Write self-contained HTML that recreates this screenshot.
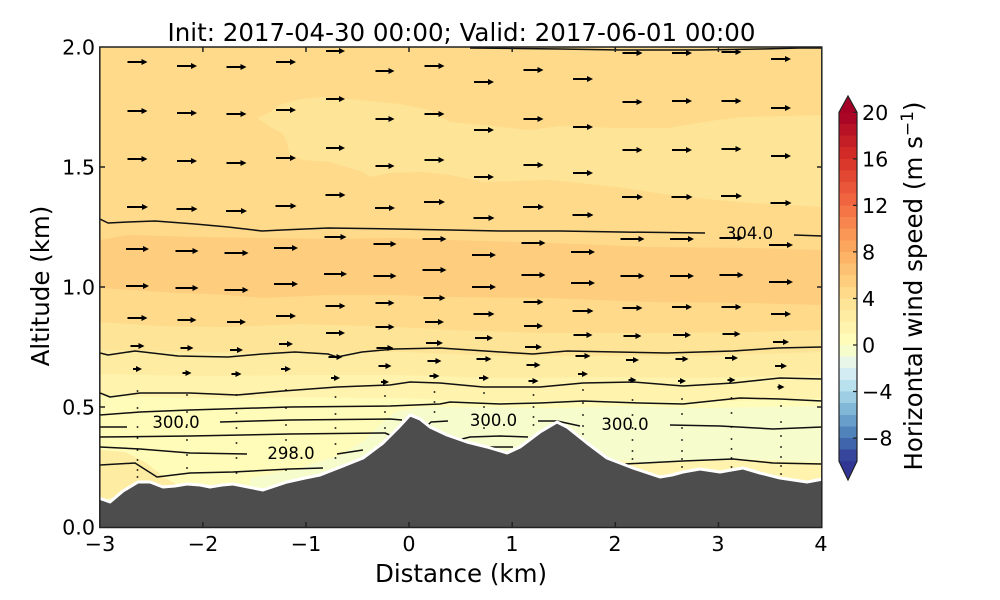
<!DOCTYPE html>
<html><head><meta charset="utf-8"><style>
html,body{margin:0;padding:0;background:#fff;}
svg{display:block;}
text{font-family:"DejaVu Sans","Liberation Sans",sans-serif;fill:#000;}
</style></head><body>
<svg width="1000" height="600" viewBox="0 0 1000 600" xmlns="http://www.w3.org/2000/svg">
<defs>
<clipPath id="cp"><rect x="100" y="47" width="722" height="480"/></clipPath>
<marker id="h" markerWidth="7" markerHeight="7" refX="0" refY="3" orient="auto" markerUnits="userSpaceOnUse"><path d="M0,0L6,3L0,6z" fill="#000"/></marker>
</defs>
<rect width="1000" height="600" fill="#fff"/>
<g clip-path="url(#cp)">
<rect x="100" y="47" width="722" height="480" fill="#feda8a"/>
<path fill="#fee496" d="M257,118 L270,112 L280,105 L300,99 L323,97 L360,100 L400,104 L430,110 L450,122 L483,125 L530,130 L560,126 L617,128 L667,128 L717,120 L743,117 L822,115 L822,207 L750,203 L683,197 L617,187 L550,180 L483,182 L450,175 L423,172 L390,173 L370,177 L363,172 L330,162 L303,160 L290,155 L286,140 L282,133 L270,127 Z"/>
<path fill="#fecd7e" d="M100,240 L128,235 L195,237 L262,238 L328,239 L395,238 L450,240 L550,243 L650,247 L750,248 L822,250 L822,305 L750,303 L650,302 L550,298 L450,297 L395,295 L328,295 L262,298 L228,295 L162,292 L100,288 Z"/>
<path fill="#fee496" d="M100,322 L160,326 L230,327 L300,324 L400,327 L450,330 L550,333 L650,333 L750,332 L822,330 L822,527 L100,527 Z"/>
<path fill="#feeca2" d="M100,350 L200,352 L300,353 L400,352 L500,356 L600,356 L700,356 L822,352 L822,527 L100,527 Z"/>
<path fill="#fff3ad" d="M100,374 L200,376 L300,375 L400,375 L500,378 L600,377 L700,378 L822,375 L822,527 L100,527 Z"/>
<path fill="#fffbb9" d="M100,396 L200,398 L300,397 L400,398 L500,402 L600,400 L700,402 L822,398 L822,527 L100,527 Z"/>
<path fill="#f7fccd" d="M250,478 L300,468 L340,455 L365,440 L380,425 L395,412 L420,407 L480,407 L560,408 L620,406 L700,408 L822,406 L822,462 L740,459 L690,460 L640,463 L605,458 L590,450 L560,470 L400,480 L300,500 L250,492 Z"/>
<path fill="#feeca2" d="M100,450 L125,452 L145,462 L165,478 L180,486 L100,500 Z"/>
<path fill="#fff3ad" d="M600,458 L640,464 L690,461 L740,460 L822,464 L822,490 L600,490 Z"/>

<!-- contour lines -->
<g fill="none" stroke="#111" stroke-width="1.5" stroke-linejoin="round">
<polyline points="470,48 560,49 620,50 700,50 760,49 800,48 822,48"/>
<polyline points="100,219 108,223 128,222 155,221 195,224 228,227 262,231 282,230 328,228 395,229 450,230 500,231 560,231 620,232 705,233"/>
<polyline points="794,235 822,236"/>
<polyline points="100,353 108,355 135,351 178,356 228,357 262,354 295,352 328,354 337,357 362,352 395,349 440,348 500,352 533,354 567,351 617,352 667,353 733,351 777,348 822,347"/>
<polyline points="100,393 110,397 140,393 190,393 237,395 283,391 337,387 390,385 410,382 440,383 483,387 540,387 583,383 633,382 683,386 733,383 780,378 822,379"/>
<polyline points="100,415 140,412 190,410 290,407 390,406 440,404 450,402 500,404 540,403 583,401 640,403 683,404 740,398 780,399 822,401"/>
<polyline points="100,427 127,427"/>
<polyline points="220,422 290,420 390,419 402,420"/>
<polyline points="428,425 431,422 448,421"/>
<polyline points="538,421 557,421 580,426"/>
<polyline points="670,425 720,426 773,429 822,427"/>
<polyline points="100,437 190,436 290,434 385,433 392,436"/>
<polyline points="462,439 470,437 500,436 528,437"/>
<polyline points="490,447 513,447"/>
<polyline points="100,447 140,449 190,453 247,454"/>
<polyline points="337,454 363,450"/>
<polyline points="100,465 135,463 157,477 190,473 233,472 290,469 323,468"/>
<polyline points="625,464 683,461 733,459 773,463 822,464"/>
</g>
<g font-size="16.5" text-anchor="middle" fill="#111">
<text x="176" y="428">300.0</text>
<text x="291" y="459">298.0</text>
<text x="493.5" y="426">300.0</text>
<text x="625" y="430">300.0</text>
<text x="749.5" y="239">304.0</text>
</g>

<!-- quiver -->
<g stroke="#000" stroke-width="2" fill="none" marker-end="url(#h)">
<g transform="translate(137.5 0)"><path d="M-10 62h14"/><path d="M-10 111h14"/><path d="M-10 159h14"/><path d="M-10.5 207h15"/><path d="M-11.5 249h17"/><path d="M-11.5 286h17"/><path d="M-10 318h14"/><path d="M-7 346h8"/><path d="M-4.5 369h3"/><path style="marker-end:none" stroke-width="1.6" d="M-0.8 391h1.6M-0.8 408h1.6M-0.8 427h1.6M-0.8 438h1.6M-0.8 450h1.6M-0.8 460h1.6M-0.8 470h1.6M-0.8 477h1.6"/></g>
<g transform="translate(187 0)"><path d="M-10 66h14"/><path d="M-10 113h14"/><path d="M-10 161h14"/><path d="M-10.5 209h15"/><path d="M-11.5 251h17"/><path d="M-11.5 288h17"/><path d="M-9.5 320h13"/><path d="M-6.5 348h7"/><path d="M-4.5 373h3"/><path style="marker-end:none" stroke-width="1.6" d="M-0.8 395h1.6M-0.8 412h1.6M-0.8 425h1.6M-0.8 440h1.6M-0.8 455h1.6M-0.8 468h1.6"/></g>
<g transform="translate(236.5 0)"><path d="M-10 67h14"/><path d="M-10 114h14"/><path d="M-10 163h14"/><path d="M-10.5 211h15"/><path d="M-12 253h18"/><path d="M-12 290h18"/><path d="M-9.5 322h13"/><path d="M-6.5 350h7"/><path d="M-5 374h4"/><path style="marker-end:none" stroke-width="1.6" d="M-0.8 395h1.6M-0.8 413h1.6M-0.8 428h1.6M-0.8 443h1.6M-0.8 458h1.6M-0.8 473h1.6"/></g>
<g transform="translate(286 0)"><path d="M-10 62h14"/><path d="M-10 110h14"/><path d="M-10 158h14"/><path d="M-10.5 206h15"/><path d="M-12 248h18"/><path d="M-12 284h18"/><path d="M-10 316h14"/><path d="M-7 344h8"/><path d="M-5 369h4"/><path style="marker-end:none" stroke-width="1.6" d="M-0.8 390h1.6M-0.8 408h1.6M-0.8 425h1.6M-0.8 440h1.6M-0.8 456h1.6M-0.8 470h1.6"/></g>
<g transform="translate(335.5 0)"><path d="M-9.5 51h13"/><path d="M-9.5 99h13"/><path d="M-9.5 148h13"/><path d="M-10 195h14"/><path d="M-11 237h16"/><path d="M-11.5 274h17"/><path d="M-10 306h14"/><path d="M-9.5 333h13"/><path d="M-7 357h8"/><path d="M-4.5 378h3"/><path style="marker-end:none" stroke-width="1.6" d="M-0.8 397h1.6M-0.8 414h1.6M-0.8 428h1.6M-0.8 444h1.6M-0.8 458h1.6"/></g>
<g transform="translate(385 0)"><path d="M-9.5 71h13"/><path d="M-9.5 119h13"/><path d="M-9.5 166h13"/><path d="M-10 208h14"/><path d="M-11.5 244h17"/><path d="M-11.5 276h17"/><path d="M-9.5 303h13"/><path d="M-9.5 327h13"/><path d="M-8.5 348h11"/><path d="M-6.5 366h7"/><path d="M-4 382h2"/><path style="marker-end:none" stroke-width="1.6" d="M-0.8 396h1.6M-0.8 412h1.6M-0.8 428h1.6"/></g>
<g transform="translate(434.5 0)"><path d="M-10 66h14"/><path d="M-10 114h14"/><path d="M-10 160h14"/><path d="M-10.5 202h15"/><path d="M-12 239h18"/><path d="M-12 270h18"/><path d="M-11 298h16"/><path d="M-9.5 322h13"/><path d="M-8.5 343h11"/><path d="M-7 361h8"/><path d="M-5 376h4"/><path style="marker-end:none" stroke-width="1.6" d="M-0.8 392h1.6M-0.8 402h1.6M-0.8 412h1.6"/></g>
<g transform="translate(484 0)"><path d="M-10 82h14"/><path d="M-10 130h14"/><path d="M-10 177h14"/><path d="M-10.5 218h15"/><path d="M-12 255h18"/><path d="M-12 287h18"/><path d="M-10.5 314h15"/><path d="M-9 338h12"/><path d="M-7.5 359h9"/><path d="M-5 378h4"/><path style="marker-end:none" stroke-width="1.6" d="M-0.8 393h1.6M-0.8 407h1.6M-0.8 428h1.6"/></g>
<g transform="translate(533.5 0)"><path d="M-10 70h14"/><path d="M-10 119h14"/><path d="M-10 165h14"/><path d="M-10.5 207h15"/><path d="M-12 243h18"/><path d="M-12 275h18"/><path d="M-10 302h14"/><path d="M-9.5 326h13"/><path d="M-8.5 347h11"/><path d="M-7 365h8"/><path d="M-5 381h4"/><path style="marker-end:none" stroke-width="1.6" d="M-0.8 395h1.6M-0.8 407h1.6M-0.8 417h1.6M-0.8 425h1.6"/></g>
<g transform="translate(583 0)"><path d="M-10 79h14"/><path d="M-10 127h14"/><path d="M-10 173h14"/><path d="M-10.5 215h15"/><path d="M-12 252h18"/><path d="M-12 283h18"/><path d="M-10.5 311h15"/><path d="M-9.5 335h13"/><path d="M-7.5 356h9"/><path d="M-5 374h4"/><path style="marker-end:none" stroke-width="1.6" d="M-0.8 390h1.6M-0.8 403h1.6M-0.8 415h1.6M-0.8 426h1.6M-0.8 434h1.6"/></g>
<g transform="translate(632.5 0)"><path d="M-10 53h14"/><path d="M-10 102h14"/><path d="M-10 150h14"/><path d="M-10.5 197h15"/><path d="M-12 239h18"/><path d="M-12 276h18"/><path d="M-10 308h14"/><path d="M-9 336h12"/><path d="M-6.5 360h7"/><path d="M-4 380h2"/><path style="marker-end:none" stroke-width="1.6" d="M-0.8 400h1.6M-0.8 415h1.6M-0.8 428h1.6M-0.8 440h1.6M-0.8 451h1.6M-0.8 459h1.6"/></g>
<g transform="translate(682 0)"><path d="M-10 53h14"/><path d="M-10 101h14"/><path d="M-10 150h14"/><path d="M-10.5 197h15"/><path d="M-12 239h18"/><path d="M-12 276h18"/><path d="M-10 307h14"/><path d="M-9 335h12"/><path d="M-6.5 359h7"/><path d="M-4 381h2"/><path style="marker-end:none" stroke-width="1.6" d="M-0.8 399h1.6M-0.8 414h1.6M-0.8 428h1.6M-0.8 440h1.6M-0.8 451h1.6M-0.8 459h1.6M-0.8 467h1.6"/></g>
<g transform="translate(731.5 0)"><path d="M-10 52h14"/><path d="M-10 101h14"/><path d="M-10 149h14"/><path d="M-10.5 196h15"/><path d="M-12 238h18"/><path d="M-12 275h18"/><path d="M-10 307h14"/><path d="M-9 334h12"/><path d="M-6.5 358h7"/><path d="M-4 380h2"/><path style="marker-end:none" stroke-width="1.6" d="M-0.8 398h1.6M-0.8 413h1.6M-0.8 427h1.6M-0.8 439h1.6M-0.8 449h1.6M-0.8 458h1.6M-0.8 467h1.6"/></g>
<g transform="translate(781 0)"><path d="M-10 59h14"/><path d="M-10 108h14"/><path d="M-10 156h14"/><path d="M-10.5 203h15"/><path d="M-12 245h18"/><path d="M-12 282h18"/><path d="M-10 314h14"/><path d="M-8 342h10"/><path d="M-6 366h6"/><path d="M-3.5 387h1"/><path style="marker-end:none" stroke-width="1.6" d="M-0.8 406h1.6M-0.8 422h1.6M-0.8 436h1.6M-0.8 447h1.6M-0.8 457h1.6M-0.8 466h1.6M-0.8 474h1.6"/></g>
</g>

<!-- terrain -->
<path fill="#4d4d4d" stroke="#fff" stroke-width="3" stroke-linejoin="round" d="M99,498 L110,502 L123,491 L138,482 L150,482 L163,487 L175,486 L187,484 L200,485 L210,487 L222,485 L233,484 L248,487 L263,490 L275,486 L287,482 L305,478 L320,475 L343,466 L363,458 L383,443 L398,428 L410,415 L420,419 L430,427 L447,435 L467,442 L487,447 L507,453 L520,447 L540,432 L557,422 L567,427 L587,443 L607,458 L633,468 L660,477 L672,475 L683,472 L700,469 L720,472 L743,468 L760,473 L780,478 L807,482 L823,479 L823,530 L99,530 Z"/>
</g>

<!-- frame and ticks -->
<g stroke="#222" stroke-width="1.5" fill="none">
<rect x="99.8" y="47" width="722" height="480.5"/>
<path d="M202.9 47v5M306 47v5M409 47v5M512.2 47v5M615.3 47v5M718.4 47v5M202.9 527v-5M306 527v-5M409 527v-5M512.2 527v-5M615.3 527v-5M718.4 527v-5M100 407h5M100 287h5M100 167h5M822 407h-5M822 287h-5M822 167h-5"/>
</g>

<!-- tick labels -->
<g font-size="20.7" text-anchor="end">
<text x="95" y="534.5">0.0</text>
<text x="95" y="414.5">0.5</text>
<text x="95" y="294.5">1.0</text>
<text x="95" y="174.5">1.5</text>
<text x="95" y="54.5">2.0</text>
</g>
<g font-size="20.7" text-anchor="middle">
<text x="100" y="551">−3</text>
<text x="203" y="551">−2</text>
<text x="306" y="551">−1</text>
<text x="409" y="551">0</text>
<text x="512" y="551">1</text>
<text x="615" y="551">2</text>
<text x="718" y="551">3</text>
<text x="821" y="551">4</text>
</g>
<text x="461" y="582" font-size="24.5" text-anchor="middle">Distance (km)</text>
<text transform="translate(49 286) rotate(-90)" font-size="24.5" text-anchor="middle">Altitude (km)</text>
<text x="461.5" y="41" font-size="24.5" text-anchor="middle">Init: 2017-04-30 00:00; Valid: 2017-06-01 00:00</text>

<!-- colorbar -->
<g shape-rendering="crispEdges">
<rect x="839" y="112.3" width="18" height="11.8" fill="#ab0626"/>
<rect x="839" y="123.9" width="18" height="11.8" fill="#b81226"/>
<rect x="839" y="135.6" width="18" height="11.8" fill="#c41e27"/>
<rect x="839" y="147.2" width="18" height="11.8" fill="#d12a27"/>
<rect x="839" y="158.8" width="18" height="11.8" fill="#db382c"/>
<rect x="839" y="170.5" width="18" height="11.8" fill="#e24732"/>
<rect x="839" y="182.1" width="18" height="11.8" fill="#e95639"/>
<rect x="839" y="193.7" width="18" height="11.8" fill="#f0653f"/>
<rect x="839" y="205.4" width="18" height="11.8" fill="#f57547"/>
<rect x="839" y="217.0" width="18" height="11.8" fill="#f7854e"/>
<rect x="839" y="228.6" width="18" height="11.8" fill="#fa9656"/>
<rect x="839" y="240.3" width="18" height="11.8" fill="#fca65d"/>
<rect x="839" y="251.9" width="18" height="11.8" fill="#fdb467"/>
<rect x="839" y="263.5" width="18" height="11.8" fill="#fdc173"/>
<rect x="839" y="275.2" width="18" height="11.8" fill="#fecd7e"/>
<rect x="839" y="286.8" width="18" height="11.8" fill="#feda8a"/>
<rect x="839" y="298.4" width="18" height="11.8" fill="#fee496"/>
<rect x="839" y="310.1" width="18" height="11.8" fill="#feeca2"/>
<rect x="839" y="321.7" width="18" height="11.8" fill="#fff3ad"/>
<rect x="839" y="333.3" width="18" height="11.8" fill="#fffbb9"/>
<rect x="839" y="345.0" width="18" height="11.8" fill="#f7fccd"/>
<rect x="839" y="356.6" width="18" height="11.8" fill="#e8f6ea"/>
<rect x="839" y="368.2" width="18" height="11.8" fill="#d3ecf4"/>
<rect x="839" y="379.9" width="18" height="11.8" fill="#b8e0ed"/>
<rect x="839" y="391.5" width="18" height="11.8" fill="#9dcee3"/>
<rect x="839" y="403.1" width="18" height="11.8" fill="#82b8d7"/>
<rect x="839" y="414.8" width="18" height="11.8" fill="#689fca"/>
<rect x="839" y="426.4" width="18" height="11.8" fill="#5183bb"/>
<rect x="839" y="438.0" width="18" height="11.8" fill="#4065ac"/>
<rect x="839" y="449.7" width="18" height="11.6" fill="#36469d"/>
</g>
<path d="M839,112.5 L848,96 L857,112.5 Z" fill="#a50026"/>
<path d="M839,461.2 L848,480 L857,461.2 Z" fill="#313695"/>
<path d="M839,112.3 L848,96 L857,112.3 L857,461.3 L848,480 L839,461.3 Z" fill="none" stroke="#222" stroke-width="1.2"/>
<path d="M857 112.3h-4M857 158.9h-4M857 205.4h-4M857 251.9h-4M857 298.5h-4M857 345h-4M857 391.5h-4M857 438.1h-4" stroke="#222" stroke-width="1.2"/>
<g font-size="20.7">
<text x="862" y="120">20</text>
<text x="862" y="166.5">16</text>
<text x="862" y="213">12</text>
<text x="862" y="259.5">8</text>
<text x="862" y="306">4</text>
<text x="862" y="352.5">0</text>
<text x="862" y="399">−4</text>
<text x="862" y="445.5">−8</text>
</g>
<text transform="translate(922 286) rotate(-90)" font-size="24.5" text-anchor="middle">Horizontal wind speed (m s<tspan dy="-9" font-size="17">−1</tspan><tspan dy="9">)</tspan></text>
</svg>
</body></html>
